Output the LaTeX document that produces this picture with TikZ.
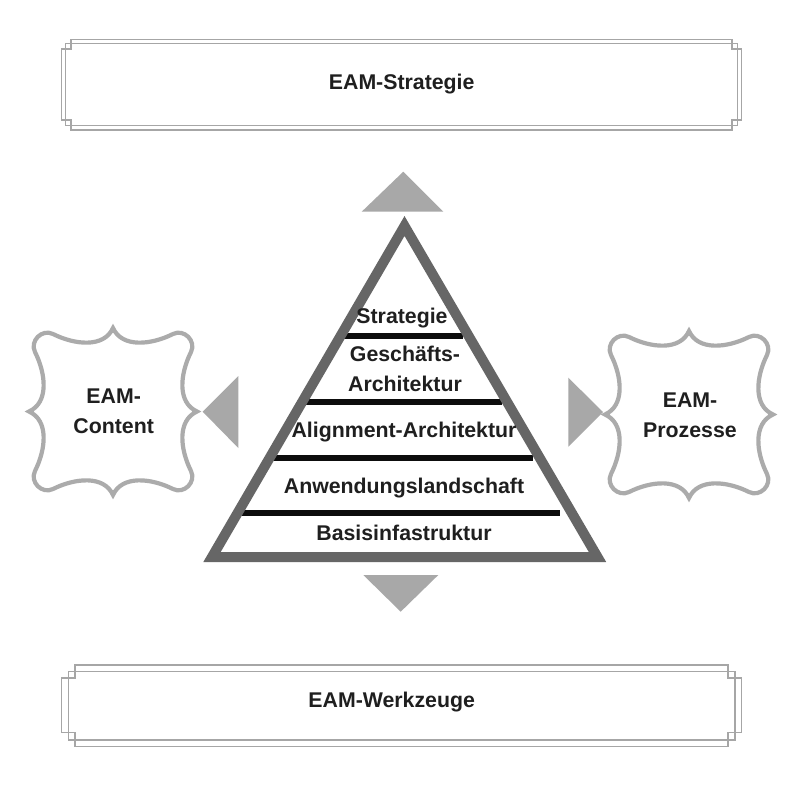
\documentclass[tikz,border=0pt]{standalone}
\usepackage{fontspec}
\setmainfont{Liberation Sans}
\begin{document}
\begin{tikzpicture}[x=1pt,y=-1pt,
  lbl/.style={font=\fontsize{21.3}{30}\selectfont\bfseries, text=black!88, inner sep=0pt, anchor=base, align=center},
  frameline/.style={draw=black!35, line width=1.5pt},
  plaque/.style={draw=black!33, line width=4.2pt, fill=white},
  arrowhd/.style={fill=black!34, draw=none},
  pyr/.style={draw=black!60, line width=10pt, line join=miter},
  layerbar/.style={draw=black!95, line width=6pt}]
\useasboundingbox[fill=white] (0,0) rectangle (800,800);

% ---------- top box ----------
\draw[frameline] (71,39.3) -- (732,39.3) -- (732,49) -- (741.3,49) -- (741.3,120) -- (732,120) -- (732,130) -- (71,130) -- (71,120) -- (61.7,120) -- (61.7,49) -- (71,49) -- cycle;
\draw[frameline] (65.5,43.5) rectangle (737.5,125.5);
\node[lbl] (strat) at (401.7,89.3) {EAM-Strategie};

% ---------- bottom box ----------
\draw[frameline] (75,665) -- (728,665) -- (728,678) -- (741.3,678) -- (741.3,732.7) -- (728,732.7) -- (728,746.7) -- (75,746.7) -- (75,732.7) -- (61.7,732.7) -- (61.7,678) -- (75,678) -- cycle;
\draw[frameline] (68.3,671.7) rectangle (735,740);
\node[lbl] (werk) at (391.7,707.3) {EAM-Werkzeuge};

% ---------- plaque boxes ----------
\def\pw{84}\def\ph{83.5}
\foreach \cx/\cy in {113/411.5, 689/414.5}{
\begin{scope}[shift={(\cx,\cy)}]
\path[plaque] (0,-\ph)
 .. controls (-9,{-\ph+20}) and ({-\pw+46},{-\ph+17}) .. ({-\pw+24},{-\ph+6})
 .. controls ({-\pw+13},{-\ph+0.5}) and ({-\pw+0.5},{-\ph+13}) .. ({-\pw+6},{-\ph+24})
 .. controls ({-\pw+17},{-\ph+46}) and ({-\pw+20},-9) .. (-\pw,0)
 .. controls ({-\pw+20},9) and ({-\pw+17},{\ph-46}) .. ({-\pw+6},{\ph-24})
 .. controls ({-\pw+0.5},{\ph-13}) and ({-\pw+13},{\ph-0.5}) .. ({-\pw+24},{\ph-6})
 .. controls ({-\pw+46},{\ph-17}) and (-9,{\ph-20}) .. (0,\ph)
 .. controls (9,{\ph-20}) and ({\pw-46},{\ph-17}) .. ({\pw-24},{\ph-6})
 .. controls ({\pw-13},{\ph-0.5}) and ({\pw-0.5},{\ph-13}) .. ({\pw-6},{\ph-24})
 .. controls ({\pw-17},{\ph-46}) and ({\pw-20},9) .. (\pw,0)
 .. controls ({\pw-20},-9) and ({\pw-17},{-\ph+46}) .. ({\pw-6},{-\ph+24})
 .. controls ({\pw-0.5},{-\ph+13}) and ({\pw-13},{-\ph+0.5}) .. ({\pw-24},{-\ph+6})
 .. controls ({\pw-46},{-\ph+17}) and (9,{-\ph+20}) .. (0,-\ph) -- cycle;
\end{scope}}
\node[lbl] (content) at (113.7,433) {EAM-\\Content};
\node[lbl] (prozesse) at (690,437) {EAM-\\Prozesse};

% ---------- arrowheads ----------
\fill[arrowhd] (403.3,171.7) -- (443.3,211.7) -- (361.7,211.7) -- cycle;
\fill[arrowhd] (363.3,575) -- (438.3,575) -- (400.7,611.7) -- cycle;
\fill[arrowhd] (202.7,411.7) -- (238.3,376) -- (238.3,448) -- cycle;
\fill[arrowhd] (603,412) -- (568.3,377.7) -- (568.3,446.7) -- cycle;

% ---------- pyramid ----------
\draw[layerbar] (344,336) -- (463,336);
\draw[layerbar] (306,402.3) -- (502,402.3);
\draw[layerbar] (273,458.3) -- (533,458.3);
\draw[layerbar] (242,513.3) -- (560,513.3);
\draw[pyr] (404.5,226) -- (597.5,557) -- (212,557) -- cycle;

\node[lbl] (l1) at (402,323) {Strategie};
\node[lbl] (l2) at (405,391) {Geschäfts-\\Architektur};
\node[lbl] (l3) at (404,437) {Alignment-Architektur};
\node[lbl] (l4) at (404,493) {Anwendungslandschaft};
\node[lbl] (l5) at (404,540) {Basisinfastruktur};
\end{tikzpicture}
\end{document}
